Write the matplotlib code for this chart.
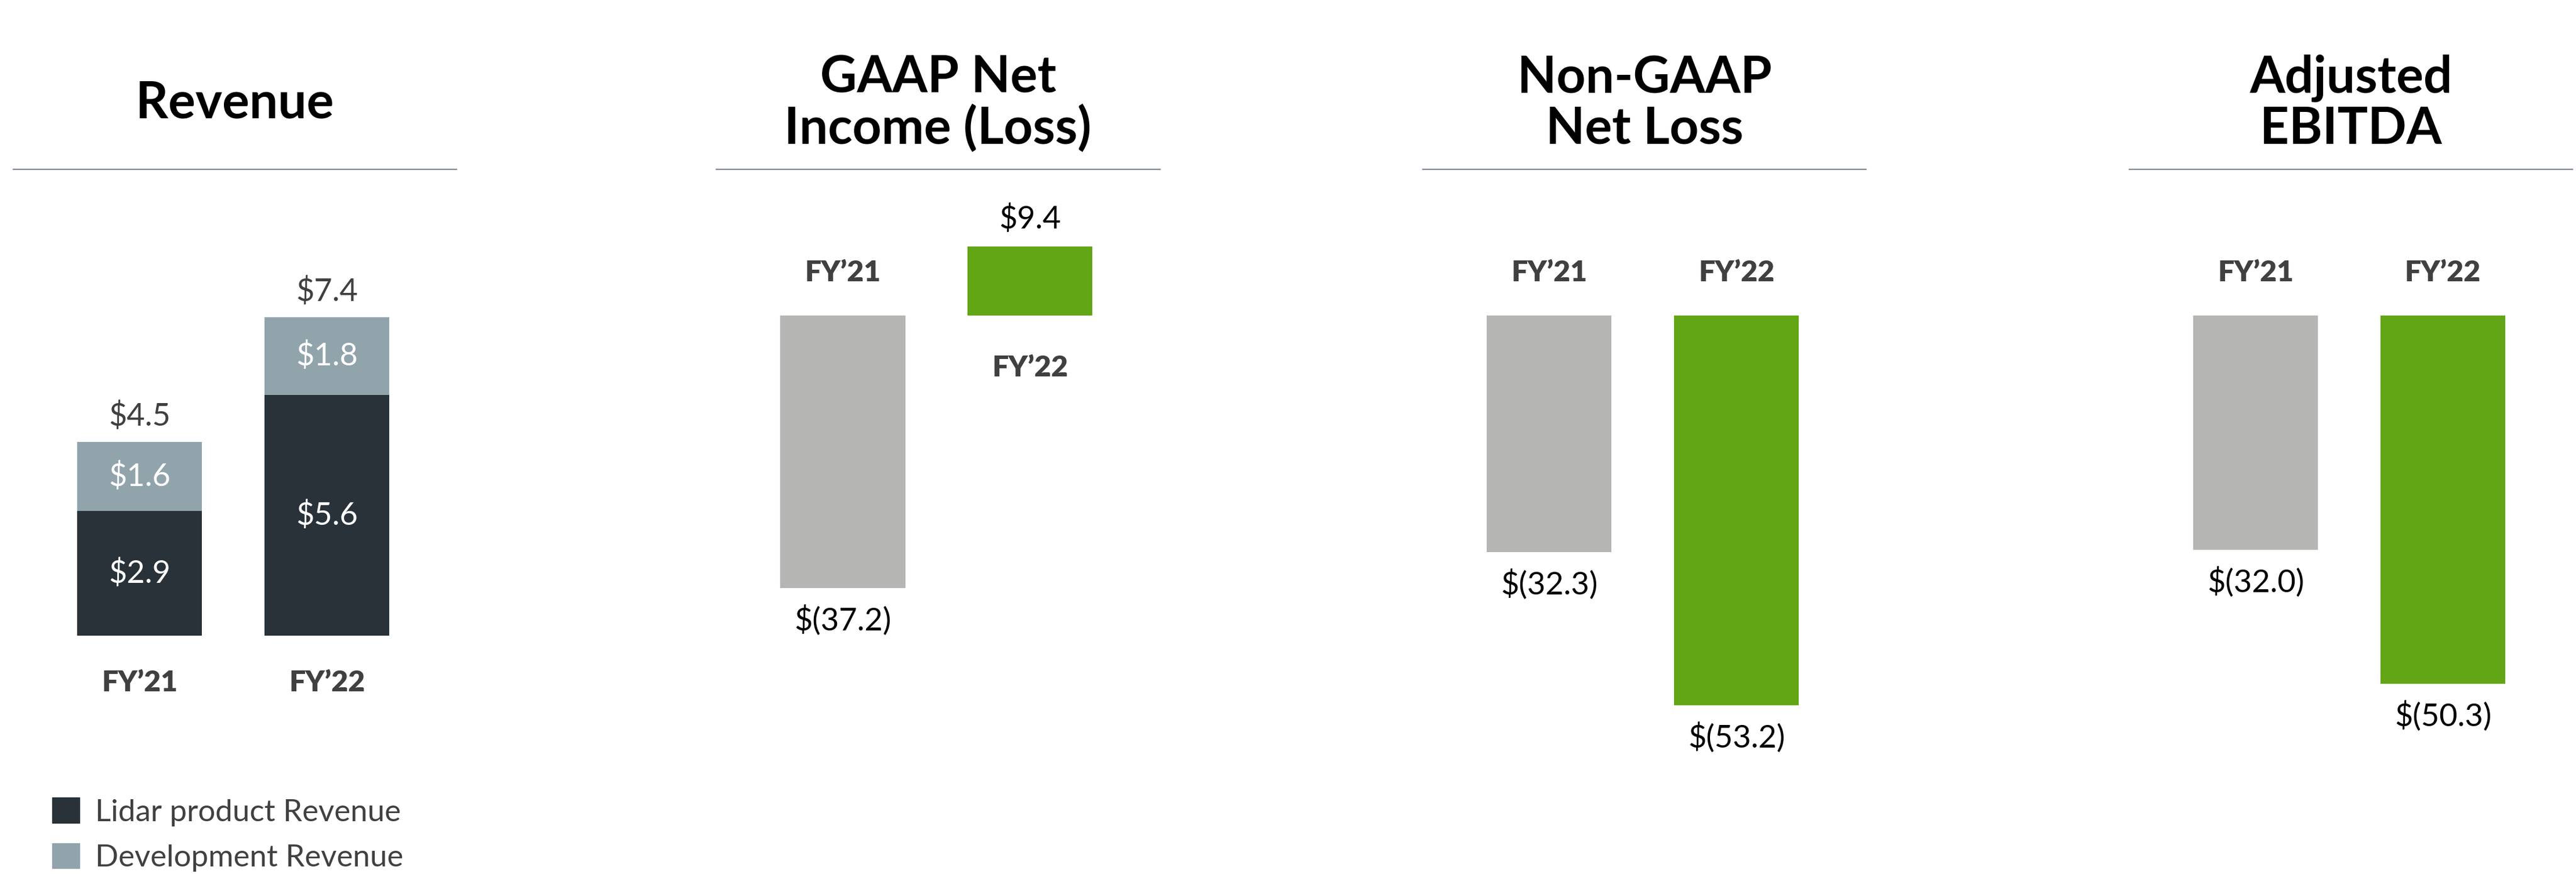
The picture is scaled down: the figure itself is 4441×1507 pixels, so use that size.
import matplotlib.pyplot as plt
from matplotlib.lines import Line2D
from matplotlib.patches import Patch

years = ['FY\u201921', 'FY\u201922']
lidar_rev = [2.9, 5.6]
dev_rev = [1.6, 1.8]
total_rev = [4.5, 7.4]
gaap_net = [-37.2, 9.4]
nongaap_net = [-32.3, -53.2]
adj_ebitda = [-32.0, -50.3]
titles = ['Revenue', 'GAAP Net\nIncome (Loss)', 'Non-GAAP\nNet Loss', 'Adjusted\nEBITDA']
legend_labels = ['Lidar product Revenue', 'Development Revenue']

C_LIDAR = '#283238'
C_DEV = '#91a4ac'
C_GREY = '#b5b5b4'
C_GREEN = '#62a515'
C_TEXT = '#404040'

plt.rcParams['font.family'] = ['Lato', 'DejaVu Sans']

# layout measured on a 1568 x 532 thumbnail
W, H = 1568.0, 532.0
def fx(x):
    return x / W
def fy(y):
    return 1 - y / H

def money(v):
    return '${:.1f}'.format(v) if v >= 0 else '$({:.1f})'.format(-v)

fig = plt.figure(figsize=(44.41, 15.07), dpi=100)

line_starts = [8, 436, 866, 1296]
ax_top, ax_bot = 120, 460
bar_w = 0.667
xl = (-0.675, 1.693)

axes = []
for i, x0 in enumerate(line_starts):
    ax = fig.add_axes([fx(x0), fy(ax_bot), 270 / W, (ax_bot - ax_top) / H])
    ax.set_xlim(*xl)
    ax.axis('off')
    axes.append(ax)
    fig.add_artist(Line2D([fx(x0), fx(x0 + 270)], [fy(103), fy(103)],
                          transform=fig.transFigure, color='#7f8794', lw=1.6))
    fig.text(fx(x0 + 135), fy(63), titles[i], ha='center', va='center',
             fontsize=63, fontweight='bold', color='black', linespacing=1.08)

# Revenue stacked bars
ax = axes[0]
ax.set_ylim((387 - ax_bot) / 26.2, (387 - ax_top) / 26.2)
x = [0, 1]
ax.bar(x, lidar_rev, bar_w, color=C_LIDAR, label=legend_labels[0])
ax.bar(x, dev_rev, bar_w, bottom=lidar_rev, color=C_DEV, label=legend_labels[1])
for k in range(2):
    ax.text(x[k], lidar_rev[k] / 2, money(lidar_rev[k]), ha='center', va='center',
            fontsize=39, color='white')
    ax.text(x[k], lidar_rev[k] + dev_rev[k] / 2, money(dev_rev[k]), ha='center',
            va='center', fontsize=39, color='white')
    ax.text(x[k], total_rev[k] + 0.6, money(total_rev[k]), ha='center', va='center',
            fontsize=39, color=C_TEXT)
    ax.text(x[k], -1.1, years[k], ha='center', va='center', fontsize=36,
            fontweight='heavy', color=C_TEXT)

# profit / loss panels
for ax, vals in zip(axes[1:], [gaap_net, nongaap_net, adj_ebitda]):
    ax.set_ylim((192 - ax_bot) / 4.46, (192 - ax_top) / 4.46)
    ax.bar(x, vals, bar_w, color=[C_GREY, C_GREEN])
    for k in range(2):
        if vals[k] >= 0:
            ax.text(x[k], vals[k] + 3.8, money(vals[k]), ha='center', va='center',
                    fontsize=39, color='black')
            ax.text(x[k], -7.2, years[k], ha='center', va='center', fontsize=36,
                    fontweight='heavy', color=C_TEXT)
        else:
            ax.text(x[k], vals[k] - 4.3, money(vals[k]), ha='center', va='center',
                    fontsize=39, color='black')
            ax.text(x[k], 5.8, years[k], ha='center', va='center', fontsize=36,
                    fontweight='heavy', color=C_TEXT)

handles = [Patch(color=C_LIDAR), Patch(color=C_DEV)]
fig.legend(handles, legend_labels, loc='center left', bbox_to_anchor=(fx(15), fy(508)),
           frameon=False, fontsize=38, handlelength=0.9, handleheight=0.9,
           handletextpad=0.5, labelspacing=0.55, labelcolor=C_TEXT)

fig.savefig('out.png', dpi=100)
